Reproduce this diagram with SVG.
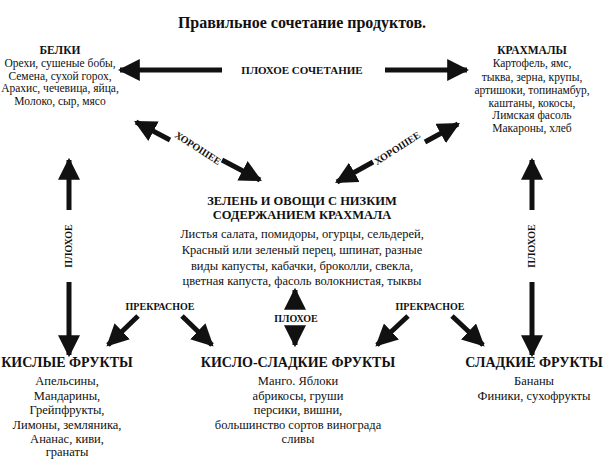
<svg xmlns="http://www.w3.org/2000/svg" width="604" height="460" viewBox="0 0 604 460" font-family="'Liberation Serif','DejaVu Serif','Times New Roman',serif">
<style>
text{font-family:"Liberation Serif","DejaVu Serif","Times New Roman",serif;fill:#111;text-anchor:middle}
.t{font-size:11.5px}
.b{font-size:12.5px}
.h{font-size:11.5px;font-weight:bold}
.H{font-size:14px;font-weight:bold}
.l{font-size:10px;font-weight:bold}
.c line{stroke:#111;stroke-width:5}
</style>
<defs>
<marker id="a" viewBox="0 0 10 10" refX="9" refY="5" markerWidth="4.4" markerHeight="4.4" orient="auto-start-reverse"><path d="M0,0L10,5L0,10Z" fill="#111"/></marker>
</defs>
<rect width="604" height="460" fill="#fff"/>
<text x="302" y="28" style="font-size:16px;font-weight:bold">Правильное сочетание продуктов.</text>
<g class="c">
<line x1="120" y1="70" x2="222" y2="70" marker-start="url(#a)"/>
<line x1="385" y1="70" x2="467" y2="70" marker-end="url(#a)"/>
<line x1="136" y1="122" x2="170" y2="140" marker-start="url(#a)"/>
<line x1="222" y1="160" x2="260" y2="180" marker-end="url(#a)"/>
<line x1="458" y1="124" x2="425" y2="142" marker-start="url(#a)"/>
<line x1="373" y1="162" x2="337" y2="182" marker-end="url(#a)"/>
<line x1="69" y1="160" x2="69" y2="210" marker-start="url(#a)"/>
<line x1="69" y1="282" x2="69" y2="355" marker-end="url(#a)"/>
<line x1="532" y1="160" x2="532" y2="210" marker-start="url(#a)"/>
<line x1="532" y1="282" x2="532" y2="355" marker-end="url(#a)"/>
<line x1="295" y1="290" x2="295" y2="308" marker-start="url(#a)"/>
<line x1="295" y1="328" x2="295" y2="345" marker-end="url(#a)"/>
<line x1="138" y1="316" x2="108" y2="345" marker-end="url(#a)"/>
<line x1="182" y1="316" x2="212" y2="345" marker-end="url(#a)"/>
<line x1="408" y1="316" x2="377" y2="345" marker-end="url(#a)"/>
<line x1="452" y1="316" x2="483" y2="345" marker-end="url(#a)"/>
</g>
<text class="l" x="302" y="74" style="font-size:11px">ПЛОХОЕ   СОЧЕТАНИЕ</text>
<text class="l" transform="translate(196,151) rotate(33)">ХОРОШЕЕ</text>
<text class="l" transform="translate(399,151) rotate(-33)">ХОРОШЕЕ</text>
<text class="l" transform="translate(72,246) rotate(-90)">ПЛОХОЕ</text>
<text class="l" transform="translate(535,246) rotate(-90)">ПЛОХОЕ</text>
<text class="l" x="296" y="322">ПЛОХОЕ</text>
<text class="l" x="160" y="310">ПРЕКРАСНОЕ</text>
<text class="l" x="430" y="310">ПРЕКРАСНОЕ</text>
<g id="belki"><text class="h" x="60" y="54">БЕЛКИ</text>
<text class="t" x="60" y="67">Орехи, сушеные бобы,</text><text class="t" x="60" y="80">Семена, сухой горох,</text><text class="t" x="60" y="92">Арахис, чечевица, яйца,</text><text class="t" x="60" y="105">Молоко, сыр, мясо</text></g>
<g id="krahmaly"><text class="h" x="532" y="54">КРАХМАЛЫ</text>
<text class="t" x="532" y="67">Картофель, ямс,</text><text class="t" x="532" y="81">тыква, зерна, крупы,</text><text class="t" x="532" y="94">артишоки, топинамбур,</text><text class="t" x="532" y="107">каштаны, кокосы,</text><text class="t" x="532" y="119">Лимская фасоль</text><text class="t" x="532" y="132">Макароны, хлеб</text></g>
<g id="zelen"><text class="h" x="302" y="205" style="font-size:12.5px">ЗЕЛЕНЬ И ОВОЩИ С НИЗКИМ</text><text class="h" x="302" y="219" style="font-size:12.5px">СОДЕРЖАНИЕМ КРАХМАЛА</text>
<text class="b" x="302" y="238">Листья салата, помидоры, огурцы, сельдерей,</text><text class="b" x="302" y="254">Красный или зеленый перец, шпинат, разные</text><text class="b" x="302" y="270">виды капусты, кабачки, броколли, свекла,</text><text class="b" x="302" y="285">цветная капуста, фасоль волокнистая, тыквы</text></g>
<g id="kislye"><text class="H" x="67" y="367">КИСЛЫЕ ФРУКТЫ</text>
<text class="b" x="67" y="385">Апельсины,</text><text class="b" x="67" y="399.5">Мандарины,</text><text class="b" x="67" y="414">Грейпфрукты,</text><text class="b" x="67" y="428.5">Лимоны, земляника,</text><text class="b" x="67" y="443">Ананас, киви,</text><text class="b" x="67" y="456">гранаты</text></g>
<g id="kislosladkie"><text class="H" x="298" y="367">КИСЛО-СЛАДКИЕ ФРУКТЫ</text>
<text class="b" x="298" y="385">Манго. Яблоки</text><text class="b" x="298" y="399.5">абрикосы, груши</text><text class="b" x="298" y="414">персики, вишни,</text><text class="b" x="298" y="428.5">большинство сортов винограда</text><text class="b" x="298" y="443">сливы</text></g>
<g id="sladkie"><text class="H" x="534" y="367">СЛАДКИЕ ФРУКТЫ</text>
<text class="b" x="534" y="385">Бананы</text><text class="b" x="534" y="399.5">Финики, сухофрукты</text></g>
</svg>
